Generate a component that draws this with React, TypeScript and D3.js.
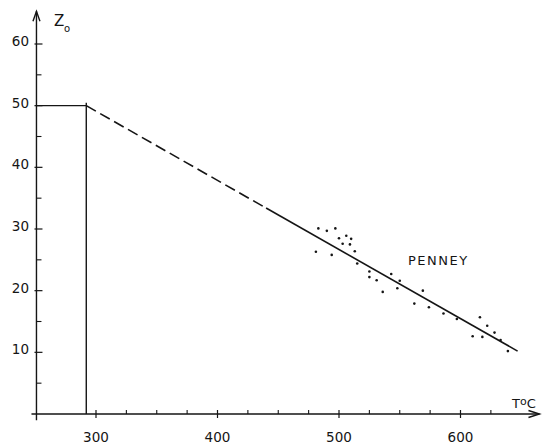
import React, { useEffect, useRef } from "react";
import * as d3 from "d3";

// measured points (temperature °C, Zo)
const tempValues = [
  483, 490, 497, 500, 506, 510, 503, 509, 481, 494, 513, 515, 525, 525, 531, 543,
  536, 548, 550, 569, 562, 574, 586, 597, 616, 622, 628, 610, 618, 633, 639,
];
const zoValues = [
  30.1, 29.7, 30.1, 28.5, 28.9, 28.4, 27.6, 27.5, 26.3, 25.8, 26.4, 24.4, 23.1, 22.2,
  21.7, 22.7, 19.8, 20.4, 21.6, 20.0, 17.9, 17.3, 16.3, 15.4, 15.7, 14.3, 13.2, 12.6,
  12.5, 12.0, 10.2,
];

// fitted line: dashed extrapolation then solid
const dashedFit: [number, number][] = [
  [292, 50],
  [440, 33.4],
];
const solidFit: [number, number][] = [
  [440, 33.4],
  [647, 10.2],
];
// plateau at 50 up to 292 °C
const plateauZo = 50;
const plateauT = 292;

const xMajorTicks = [300, 400, 500, 600];
const xMinorTicks = [325, 350, 375, 425, 450, 475, 525, 550, 575, 625];
const yMajorTicks = [10, 20, 30, 40, 50, 60];
const yMinorTicks = [5, 15, 25, 35, 45, 55];

const ink = "#151515";
const font = "'DejaVu Sans', sans-serif";

function App() {
  const svgRef = useRef<SVGSVGElement>(null);

  useEffect(() => {
    const svg = d3.select(svgRef.current);
    svg.selectAll("*").remove();

    const x = d3.scaleLinear().domain([300, 600]).range([96, 460.5]);
    const y = d3.scaleLinear().domain([0, 60]).range([414, 44]);
    const originT = 251;
    const x0 = x(originT);
    const y0 = y(0);

    const g = svg.append("g").attr("stroke", ink).attr("fill", "none");

    // axes
    g.append("line")
      .attr("x1", x0 - 5).attr("x2", x(665))
      .attr("y1", y0).attr("y2", y0)
      .attr("stroke-width", 1.4);
    g.append("path")
      .attr("d", `M${x(665) - 11},${y0 - 3.5} L${x(665)},${y0} L${x(665) - 11},${y0 + 3.5}`)
      .attr("stroke-width", 1.4);
    g.append("line")
      .attr("x1", x0).attr("x2", x0)
      .attr("y1", y(-1)).attr("y2", y(65.3))
      .attr("stroke-width", 1.4);
    g.append("path")
      .attr("d", `M${x0 - 3.5},${y(65.3) + 10} L${x0},${y(65.3)} L${x0 + 3.5},${y(65.3) + 10}`)
      .attr("stroke-width", 1.4);

    // x ticks
    g.selectAll(".xmaj").data(xMajorTicks).join("line")
      .attr("x1", (d) => x(d)).attr("x2", (d) => x(d))
      .attr("y1", y0 - 4).attr("y2", y0 + 4)
      .attr("stroke-width", 1.2);
    g.selectAll(".xmin").data(xMinorTicks).join("line")
      .attr("x1", (d) => x(d)).attr("x2", (d) => x(d))
      .attr("y1", y0 - 4).attr("y2", y0)
      .attr("stroke-width", 1.1);

    // y ticks
    g.selectAll(".ymaj").data(yMajorTicks).join("line")
      .attr("x1", x0 - 2).attr("x2", x0 + 6)
      .attr("y1", (d) => y(d)).attr("y2", (d) => y(d))
      .attr("stroke-width", 1.2);
    g.selectAll(".ymin").data(yMinorTicks).join("line")
      .attr("x1", x0).attr("x2", x0 + 5)
      .attr("y1", (d) => y(d)).attr("y2", (d) => y(d))
      .attr("stroke-width", 1.1);

    // plateau lines
    g.append("line")
      .attr("x1", x0).attr("x2", x(plateauT))
      .attr("y1", y(plateauZo)).attr("y2", y(plateauZo))
      .attr("stroke-width", 1.2);
    g.append("line")
      .attr("x1", x(plateauT)).attr("x2", x(plateauT))
      .attr("y1", y(plateauZo) - 3).attr("y2", y0)
      .attr("stroke-width", 1.4);

    const line = d3.line<[number, number]>()
      .x((d) => x(d[0]))
      .y((d) => y(d[1]));

    g.append("path").datum(dashedFit)
      .attr("d", line)
      .attr("stroke-width", 1.6)
      .attr("stroke-dasharray", "11,5");
    g.append("path").datum(solidFit)
      .attr("d", line)
      .attr("stroke-width", 1.6);

    // points
    svg.append("g")
      .selectAll("circle")
      .data(tempValues)
      .join("circle")
      .attr("cx", (d) => x(d))
      .attr("cy", (d, i) => y(zoValues[i]))
      .attr("r", 1.3)
      .attr("fill", ink);

    // labels
    const t = svg.append("g")
      .attr("fill", ink)
      .style("font-family", font)
      .style("font-size", "13.5px");

    t.selectAll(".xl").data(xMajorTicks).join("text")
      .attr("x", (d) => x(d))
      .attr("y", 442)
      .attr("text-anchor", "middle")
      .text((d) => d);

    t.selectAll(".yl").data(yMajorTicks).join("text")
      .attr("x", 29)
      .attr("y", (d) => y(d) + 2)
      .attr("text-anchor", "end")
      .text((d) => d);

    t.append("text").attr("x", 54).attr("y", 26).style("font-size", "15px").text("Z");
    t.append("text").attr("x", 64).attr("y", 32).style("font-size", "10px").text("o");

    const tc = t.append("text").attr("x", 512).attr("y", 408).style("font-size", "13px");
    tc.append("tspan").text("T");
    tc.append("tspan").attr("dy", -3).style("font-size", "11px").text("o");
    tc.append("tspan").attr("dy", 3).text("C");

    t.append("text")
      .attr("x", 408).attr("y", 265)
      .style("font-size", "13px")
      .style("letter-spacing", "1.5px")
      .text("PENNEY");
  }, []);

  return (
    <div style={{ position: "absolute", left: 0, top: 0 }}>
      <svg ref={svgRef} width={544} height={445} style={{ display: "block", background: "#fff" }}></svg>
    </div>
  );
}

export default App;
